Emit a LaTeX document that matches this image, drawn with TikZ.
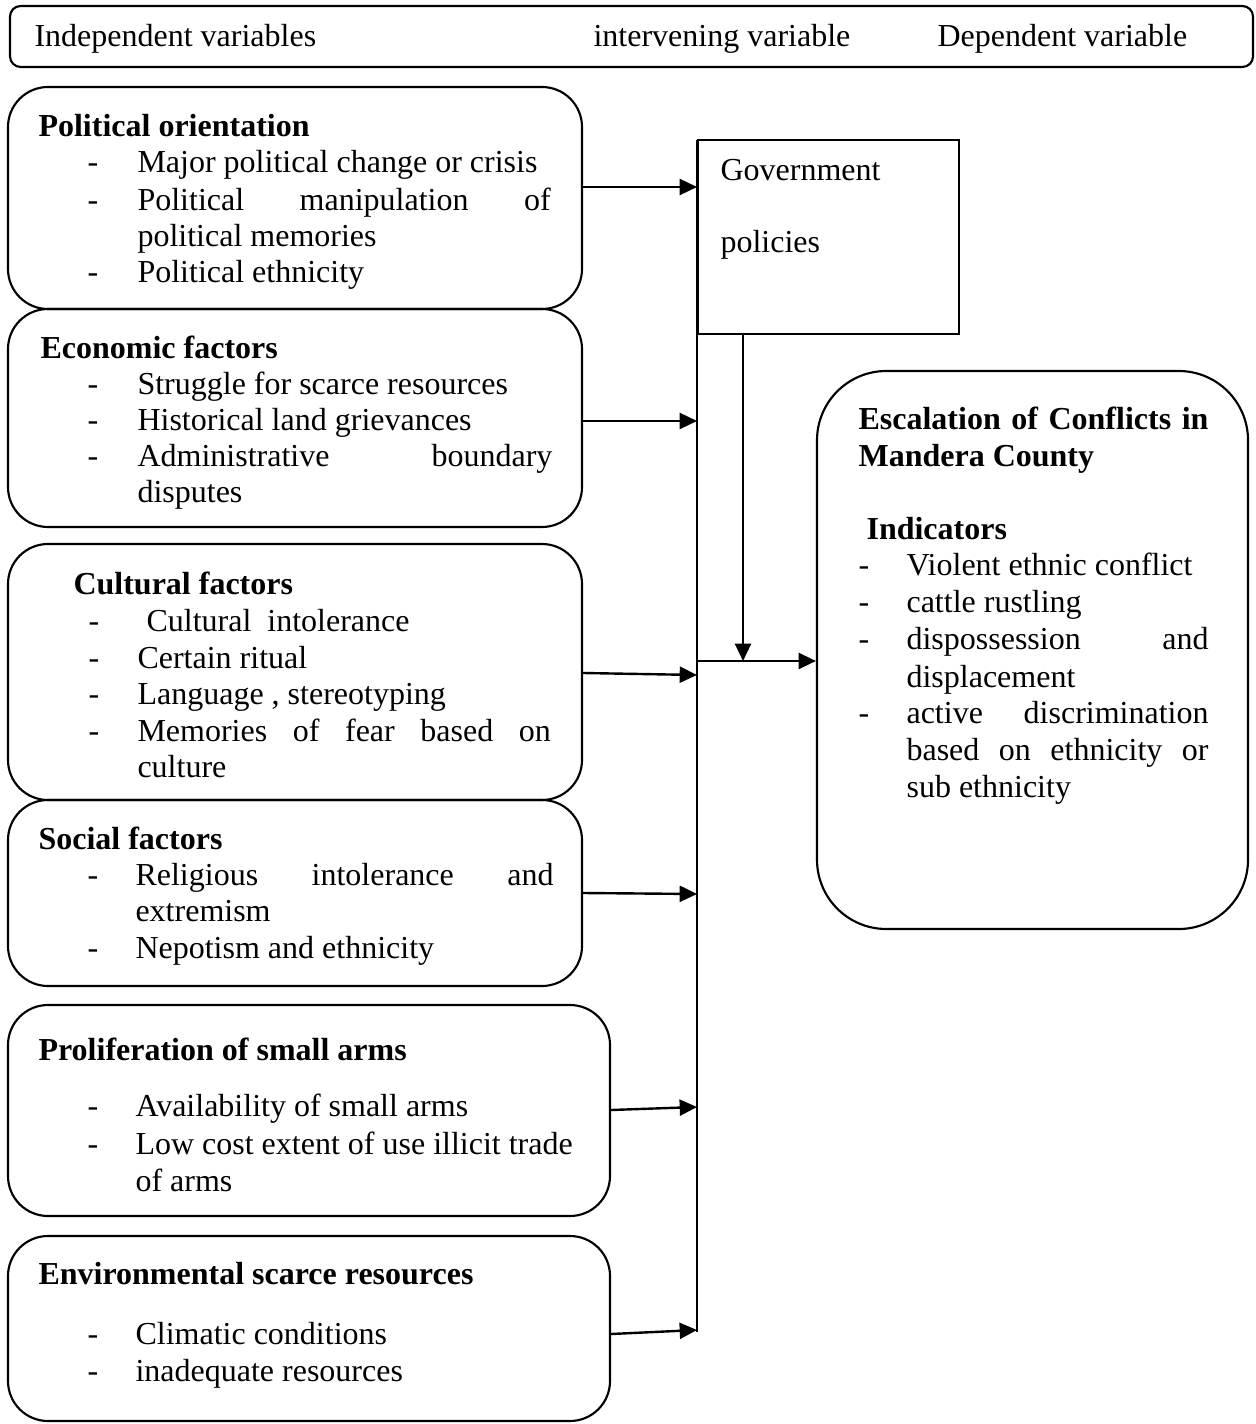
\documentclass[tikz,border=0pt]{standalone}
\usepackage{fontspec}
\setmainfont{Liberation Serif}
\usetikzlibrary{arrows.meta,fit}
\newcommand{\jl}[2]{\makebox[#1][s]{#2}}
\begin{document}
\begin{tikzpicture}[x=0.375pt,y=-0.375pt,
  font=\fontsize{12}{13.875}\selectfont,
  box/.style={draw,line width=0.8pt,rounded corners=15pt,inner sep=0pt},
  arr/.style={-{Triangle[length=6.5pt,width=6pt]},line width=0.9pt},
  lt/.style={anchor=base west,inner sep=0pt}]
\useasboundingbox (0,0) rectangle (1255,1424);

% header
\node[box,rounded corners=4pt,fit={(10,6)(1253,67)}] (hdr) {};
\node[lt] (h1) at (34,47) {Independent variables};
\node[lt] (h2) at (593,47) {intervening variable};
\node[lt] (h3) at (937,47) {Dependent variable};

% political
\node[box,fit={(8,87)(582,309)}] (pol) {};
\node[lt] (p0) at (38,137) {\bfseries Political orientation};
\node[lt] (pd1) at (87,173) {-};
\node[lt] (pd2) at (87,211) {-};
\node[lt] (pd3) at (87,283) {-};
\node[lt] (p1) at (137,173) {Major political change or crisis};
\node[lt] (p2) at (137,211) {\jl{154.9pt}{Political manipulation of}};
\node[lt] (p3) at (137,247) {political memories};
\node[lt] (p4) at (137,283) {Political ethnicity};

% economic
\node[box,fit={(8,309)(582,527)}] (eco) {};
\node[lt] (e0) at (40,359) {\bfseries Economic factors};
\node[lt] (ed1) at (87,395) {-};
\node[lt] (ed2) at (87,431) {-};
\node[lt] (ed3) at (87,467) {-};
\node[lt] (e1) at (137,395) {Struggle for scarce resources};
\node[lt] (e2) at (137,431) {Historical land grievances};
\node[lt] (e3) at (137,467) {\jl{155.6pt}{Administrative boundary}};
\node[lt] (e4) at (137,503) {disputes};

% cultural
\node[box,fit={(8,544)(582,800)}] (cul) {};
\node[lt] (c0) at (73,594) {\bfseries Cultural factors};
\node[lt] (cd1) at (88,631) {-};
\node[lt] (cd2) at (88,668) {-};
\node[lt] (cd3) at (88,704) {-};
\node[lt] (cd4) at (88,741) {-};
\node[lt] (c1) at (146,631) {Cultural\ \ intolerance};
\node[lt] (c2) at (137,668) {Certain ritual};
\node[lt] (c3) at (137,704) {Language , stereotyping};
\node[lt] (c4) at (137,741) {\jl{155pt}{Memories of fear based on}};
\node[lt] (c5) at (137,777) {culture};

% social
\node[box,fit={(8,800)(582,986)}] (soc) {};
\node[lt] (s0) at (38,849) {\bfseries Social factors};
\node[lt] (sd1) at (87,885) {-};
\node[lt] (sd2) at (87,958) {-};
\node[lt] (s1) at (135,885) {\jl{156.75pt}{Religious intolerance and}};
\node[lt] (s2) at (135,921) {extremism};
\node[lt] (s3) at (135,958) {Nepotism and ethnicity};

% proliferation
\node[box,fit={(8,1005)(610,1216)}] (pro) {};
\node[lt] (r0) at (38,1060) {\bfseries Proliferation of small arms};
\node[lt] (rd1) at (87,1116) {-};
\node[lt] (rd2) at (87,1154) {-};
\node[lt] (r1) at (135,1116) {Availability of small arms};
\node[lt] (r2) at (135,1154) {Low cost extent of use illicit trade};
\node[lt] (r3) at (135,1191) {of arms};

% environmental
\node[box,fit={(8,1236)(610,1421)}] (env) {};
\node[lt] (v0) at (38,1284) {\bfseries Environmental scarce resources};
\node[lt] (vd1) at (87,1344) {-};
\node[lt] (vd2) at (87,1381) {-};
\node[lt] (v1) at (135,1344) {Climatic conditions};
\node[lt] (v2) at (135,1381) {inadequate resources};

% government
\node[draw,line width=0.8pt,inner sep=0pt,fit={(698,140)(959,334)}] (gov) {};
\node[lt] (g1) at (720,181) {Government};
\node[lt] (g2) at (720,253) {policies};

% outcome
\node[box,rounded corners=26pt,fit={(817,371)(1248,929)}] (esc) {};
\node[lt] (o1) at (858,430) {\bfseries\jl{131.25pt}{Escalation of Conflicts in}};
\node[lt] (o2) at (858,467) {\bfseries Mandera County};
\node[lt] (o3) at (866,540) {\bfseries Indicators};
\node[lt] (od1) at (858,576) {-};
\node[lt] (od2) at (858,613) {-};
\node[lt] (od3) at (858,650) {-};
\node[lt] (od4) at (858,723) {-};
\node[lt] (o4) at (906,576) {Violent ethnic conflict};
\node[lt] (o5) at (906,613) {cattle rustling};
\node[lt] (o6) at (906,650) {\jl{113.25pt}{dispossession and}};
\node[lt] (o7) at (906,687) {displacement};
\node[lt] (o8) at (906,723) {\jl{113.25pt}{active discrimination}};
\node[lt] (o9) at (906,760) {\jl{113.25pt}{based on ethnicity or}};
\node[lt] (o10) at (906,797) {sub ethnicity};

% connectors
\coordinate (bt) at (697,140);
\coordinate (bb) at (697,1332);
\draw[line width=0.9pt] (bt) -- (bb);
\draw[arr] (pol.east |- 0,187) -- (bt |- 0,187);
\draw[arr] (eco.east |- 0,421) -- (bt |- 0,421);
\draw[arr] (cul.east |- 0,673) -- (bt |- 0,675);
\draw[arr] (soc.east |- 0,893) -- (bt |- 0,894);
\draw[arr] (pro.east |- 0,1110) -- (bt |- 0,1107);
\draw[arr] (env.east |- 0,1334) -- (bt |- 0,1330);
\coordinate (join) at (743,661);
\draw[arr] (gov.south -| join) -- (join);
\draw[arr] (bt |- join) -- (esc.west |- join);
\end{tikzpicture}
\end{document}
